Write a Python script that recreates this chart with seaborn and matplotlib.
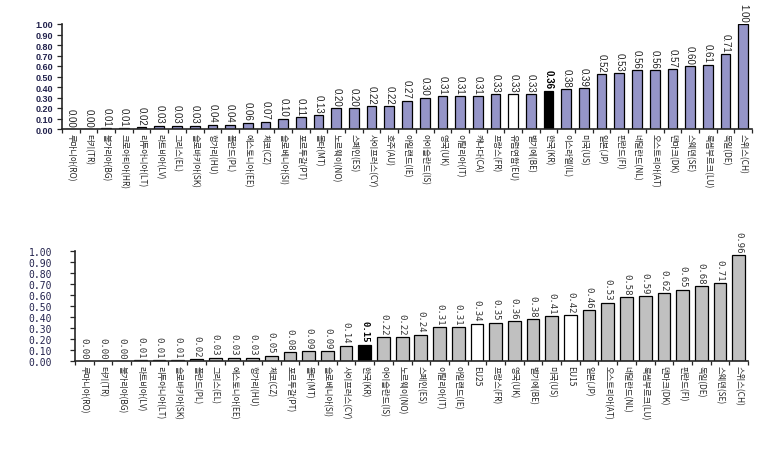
import numpy as np
import pandas as pd
import matplotlib
matplotlib.use("Agg")
import matplotlib.pyplot as plt
import seaborn as sns
from matplotlib.ticker import FormatStrFormatter, FixedLocator

# --- data, top panel ---
top_names = ['루마니아(RO)', '터키(TR)', '불가리아(BG)', '크로아티아(HR)', '리투아니아(LT)',
             '라트비아(LV)', '그리스(EL)', '슬로바키아(SK)', '헝가리(HU)', '폴란드(PL)',
             '에스토니아(EE)', '체코(CZ)', '슬로베니아(SI)', '포르투갈(PT)', '몰타(MT)',
             '노르웨이(NO)', '스페인(ES)', '사이프러스(CY)', '호주(AU)', '아일랜드(IE)',
             '아이슬란드(IS)', '영국(UK)', '이탈리아(IT)', '캐나다(CA)', '프랑스(FR)',
             '유럽연합(EU)', '벨기에(BE)', '한국(KR)', '이스라엘(IL)', '미국(US)',
             '일본(JP)', '핀란드(FI)', '네덜란드(NL)', '오스트리아(AT)', '덴마크(DK)',
             '스웨덴(SE)', '룩셈부르크(LU)', '독일(DE)', '스위스(CH)']
top_values = [0.00, 0.00, 0.01, 0.01, 0.02, 0.03, 0.03, 0.03, 0.04, 0.04,
              0.06, 0.07, 0.10, 0.11, 0.13, 0.20, 0.20, 0.22, 0.22, 0.27,
              0.30, 0.31, 0.31, 0.31, 0.33, 0.33, 0.33, 0.36, 0.38, 0.39,
              0.52, 0.53, 0.56, 0.56, 0.57, 0.60, 0.61, 0.71, 1.00]

# --- data, bottom panel ---
bottom_names = ['루마니아(RO)', '터키(TR)', '불가리아(BG)', '라트비아(LV)', '리투아니아(LT)',
                '슬로바키아(SK)', '폴란드(PL)', '그리스(EL)', '에스토니아(EE)', '헝가리(HU)',
                '체코(CZ)', '포르투갈(PT)', '몰타(MT)', '슬로베니아(SI)', '사이프러스(CY)',
                '한국(KR)', '아이슬란드(IS)', '노르웨이(NO)', '스페인(ES)', '이탈리아(IT)',
                '아일랜드(IE)', 'EU25', '프랑스(FR)', '영국(UK)', '벨기에(BE)',
                '미국(US)', 'EU15', '일본(JP)', '오스트리아(AT)', '네덜란드(NL)',
                '룩셈부르크(LU)', '덴마크(DK)', '핀란드(FI)', '독일(DE)', '스웨덴(SE)',
                '스위스(CH)']
bottom_values = [0.00, 0.00, 0.00, 0.01, 0.01, 0.01, 0.02, 0.03, 0.03, 0.03,
                 0.05, 0.08, 0.09, 0.09, 0.14, 0.15, 0.22, 0.22, 0.24, 0.31,
                 0.31, 0.34, 0.35, 0.36, 0.38, 0.41, 0.42, 0.46, 0.53, 0.58,
                 0.59, 0.62, 0.65, 0.68, 0.71, 0.96]

korea = '한국(KR)'
eu_names = ['유럽연합(EU)', 'EU25', 'EU15']

sns.set_style('ticks')
plt.rcParams['font.family'] = ['Noto Sans CJK KR', 'DejaVu Sans']

fig = plt.figure(figsize=(7.76, 4.52), dpi=100)
ax1 = fig.add_axes([62 / 776, 1 - 130 / 452, 690 / 776, 105 / 452])
ax2 = fig.add_axes([75 / 776, 1 - 362 / 452, 673 / 776, 110 / 452])


def draw(ax, names, values, base, width, num_family, num_size, num_color,
         tick_family, tick_size, tick_weight, ypad):
    colors = ['black' if n == korea else 'white' if n in eu_names else base for n in names]
    df = pd.DataFrame({'name': names, 'value': values})
    sns.barplot(data=df, x='name', y='value', hue='name', palette=colors, legend=False,
                width=width, edgecolor='black', linewidth=0.9, saturation=1, ax=ax)
    for i, (n, v) in enumerate(zip(names, values)):
        ax.text(i, v + 0.025, f'{v:.2f}', rotation=270, ha='center', va='bottom',
                fontsize=num_size, family=num_family,
                color='black' if n == korea else num_color,
                fontweight='bold' if n == korea else 'normal')
    n = len(names)
    ax.set_xlim(-0.5, n - 0.5)
    ax.set_ylim(0, 1.0)
    ax.set_yticks(np.arange(0, 1.001, 0.1))
    ax.yaxis.set_major_formatter(FormatStrFormatter('%.2f'))
    ax.set_xticks(range(n))
    ax.set_xticklabels(names, rotation=270, fontsize=6, va='top', ha='center')
    ax.xaxis.set_minor_locator(FixedLocator(np.arange(n + 1) - 0.5))
    ax.tick_params(axis='x', which='major', length=0, pad=3)
    ax.tick_params(axis='x', which='minor', length=3, width=0.9, direction='out')
    ax.tick_params(axis='y', length=3.5, width=0.9, direction='out', pad=ypad,
                   labelsize=tick_size, labelcolor='#22224d')
    for lab in ax.get_yticklabels():
        lab.set_family(tick_family)
        lab.set_fontweight(tick_weight)
    ax.set_xlabel('')
    ax.set_ylabel('')
    sns.despine(ax=ax)
    for s in ['left', 'bottom']:
        ax.spines[s].set_linewidth(1.2)


draw(ax1, top_names, top_values, '#9595c8', 0.55, 'Liberation Sans', 7, '#222222',
     'Liberation Sans', 6.5, 'bold', 3)
draw(ax2, bottom_names, bottom_values, '#c0c0c0', 0.68, 'DejaVu Sans Mono', 6.5, '#333333',
     'DejaVu Sans Mono', 7, 'normal', 13)

fig.savefig('out.png', dpi=100)
